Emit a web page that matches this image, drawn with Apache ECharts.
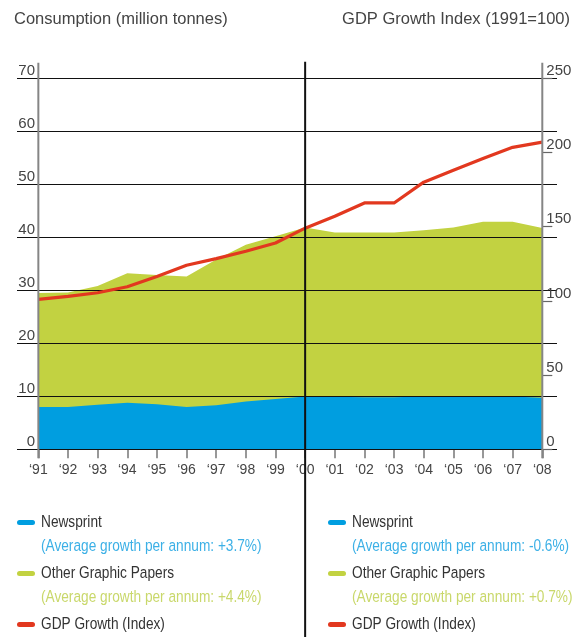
<!DOCTYPE html>
<html>
<head>
<meta charset="utf-8">
<script src="https://cdn.jsdelivr.net/npm/echarts@6/dist/echarts.min.js"></script>
<style>
  html, body { margin: 0; padding: 0; background: #ffffff; }
  #chart { width: 577px; height: 637px; }
</style>
</head>
<body>
<div id="chart"></div>
<script>
// Paper consumption (million tonnes) and GDP growth index, 1991–2008
const years = [1991, 1992, 1993, 1994, 1995, 1996, 1997, 1998, 1999,
               2000, 2001, 2002, 2003, 2004, 2005, 2006, 2007, 2008];
const newsprint = [8.0, 8.0, 8.4, 8.8, 8.5, 8.0, 8.3, 9.0, 9.5,
                   9.95, 9.9, 9.8, 9.8, 9.95, 10.05, 10.05, 9.95, 9.75];
const otherGraphic = [21.5, 21.6, 22.4, 24.4, 24.4, 24.6, 27.5, 29.6, 30.7,
                      31.9, 31.0, 31.1, 31.1, 31.4, 31.8, 32.9, 33.0, 32.0];
const gdpIndex = [101, 103, 105.5, 109.5, 116.5, 124, 128.5, 133.5, 139,
                  149, 157, 166, 166, 180, 188, 196, 203.5, 207];

const seriesNames = ['Newsprint', 'Other Graphic Papers', 'GDP Growth (Index)'];
const growthNotes1991 = ['(Average growth per annum: +3.7%)', '(Average growth per annum: +4.4%)'];
const growthNotes2000 = ['(Average growth per annum: -0.6%)', '(Average growth per annum: +0.7%)'];
const leftTitle = 'Consumption (million tonnes)';
const rightTitle = 'GDP Growth Index (1991=100)';
const dividerYear = 2000;

const BLUE = '#009ee0';
const GREEN = '#c2d241';
const RED = '#e2381f';
const NOTE_BLUE = '#3cb0e6';
const NOTE_GREEN = '#c9d86b';
const SANS = "'Liberation Sans', Arial, Helvetica, sans-serif";

const chart = echarts.init(document.getElementById('chart'), null, { renderer: 'canvas' });

const pairs = arr => years.map((y, i) => [y, arr[i]]);
// the green band sits on top of newsprint: its upper edge is the combined total
const paperTotal = years.map((y, i) => [y, +(newsprint[i] + otherGraphic[i]).toFixed(2)]);

chart.setOption({
  animation: false,
  backgroundColor: '#ffffff',
  title: [
    { text: leftTitle, left: 14, top: 11, padding: 0,
      textStyle: { fontFamily: SANS, fontSize: 16.5, fontWeight: 'normal', color: '#444444' } },
    { text: rightTitle, right: 7, top: 11, padding: 0,
      textStyle: { fontFamily: SANS, fontSize: 16.5, fontWeight: 'normal', color: '#444444' } }
  ],
  grid: { left: 17, right: 20, top: 78.3, bottom: 187.7, containLabel: false },
  xAxis: {
    type: 'value',
    min: 1990.28,
    max: 2008.496,
    axisLine: { show: false },
    splitLine: { show: false },
    axisTick: { show: true, customValues: years, length: 9,
                lineStyle: { color: '#777777', width: 1.5 } },
    axisLabel: {
      customValues: years,
      margin: 14,
      fontFamily: SANS, fontSize: 14, color: '#444444',
      formatter: v => '\u2018' + String(Math.round(v)).slice(2)
    }
  },
  yAxis: [
    {
      type: 'value', position: 'left', min: 0, max: 70, interval: 10, z: 3,
      axisLine: { show: false },
      axisTick: { show: false },
      splitLine: { show: true, lineStyle: { color: '#111111', width: 1.2 } },
      axisLabel: { inside: true, margin: 18, align: 'right', verticalAlign: 'bottom',
                   fontFamily: SANS, fontSize: 15, color: '#444444' }
    },
    {
      type: 'value', position: 'right', offset: -14.7, min: 0, max: 250, interval: 50, z: 3,
      axisLine: { show: false },
      splitLine: { show: false },
      axisTick: { show: true, inside: false, length: 10, lineStyle: { color: '#666666', width: 1.2 } },
      axisLabel: { margin: 4, verticalAlign: 'bottom', fontFamily: SANS, fontSize: 15, color: '#444444' }
    }
  ],
  series: [
    {
      name: seriesNames[1], type: 'line', yAxisIndex: 0,
      data: paperTotal, symbol: 'none', color: GREEN, z: 1,
      lineStyle: { width: 0 }, areaStyle: { color: GREEN, opacity: 1 }
    },
    {
      name: seriesNames[0], type: 'line', yAxisIndex: 0,
      data: pairs(newsprint), symbol: 'none', color: BLUE, z: 2,
      lineStyle: { width: 0 }, areaStyle: { color: BLUE, opacity: 1 }
    },
    {
      name: seriesNames[2], type: 'line', yAxisIndex: 1,
      data: pairs(gdpIndex), symbol: 'none', color: RED, z: 5,
      lineStyle: { width: 3.2, color: RED, join: 'round' }
    }
  ]
});

// Axis rules and the 2000 divider, positioned through the x scale
const gridRect = chart.getModel().getComponent('grid').coordinateSystem.getRect();
const xAt = yr => chart.convertToPixel({ xAxisIndex: 0 }, yr);
const ruleTop = gridRect.y - 15.5;
const ruleBottom = gridRect.y + gridRect.height + 9;
const fullBottom = 637;

// Two-column key: series swatch + name, with growth notes under the first two
const keyColors = [BLUE, GREEN, RED];
const keyRows = [522.5, 573.5, 624.5];
const noteRows = [547, 598];
const noteColors = [NOTE_BLUE, NOTE_GREEN];
const condensed = { fontSize: 16.3, scaleX: 0.84 };

function keyColumn(x0, notes) {
  const els = [];
  seriesNames.forEach((name, i) => {
    els.push({ type: 'rect', z: 10, shape: { x: x0, y: keyRows[i] - 2.5, width: 18, height: 5, r: 2.5 },
               style: { fill: keyColors[i] } });
    els.push({ type: 'text', z: 10, x: x0 + 24, y: keyRows[i], scaleX: condensed.scaleX,
               style: { x: 0, y: 0, text: name, fill: '#333333', fontFamily: SANS,
                        fontSize: condensed.fontSize, verticalAlign: 'middle' } });
  });
  notes.forEach((t, i) => {
    els.push({ type: 'text', z: 10, x: x0 + 24, y: noteRows[i], scaleX: condensed.scaleX,
               style: { x: 0, y: 0, text: t, fill: noteColors[i], fontFamily: SANS,
                        fontSize: condensed.fontSize, verticalAlign: 'middle' } });
  });
  return els;
}

chart.setOption({
  graphic: [
    { type: 'line', z: 8, shape: { x1: xAt(years[0]), y1: ruleTop, x2: xAt(years[0]), y2: ruleBottom },
      style: { stroke: '#858585', lineWidth: 2 } },
    { type: 'line', z: 8, shape: { x1: xAt(years[years.length - 1]), y1: ruleTop,
      x2: xAt(years[years.length - 1]), y2: ruleBottom },
      style: { stroke: '#858585', lineWidth: 2 } },
    { type: 'line', z: 9, shape: { x1: xAt(dividerYear), y1: ruleTop - 1, x2: xAt(dividerYear), y2: fullBottom },
      style: { stroke: '#111111', lineWidth: 2 } }
  ].concat(keyColumn(17, growthNotes1991), keyColumn(328, growthNotes2000))
});
</script>
</body>
</html>
